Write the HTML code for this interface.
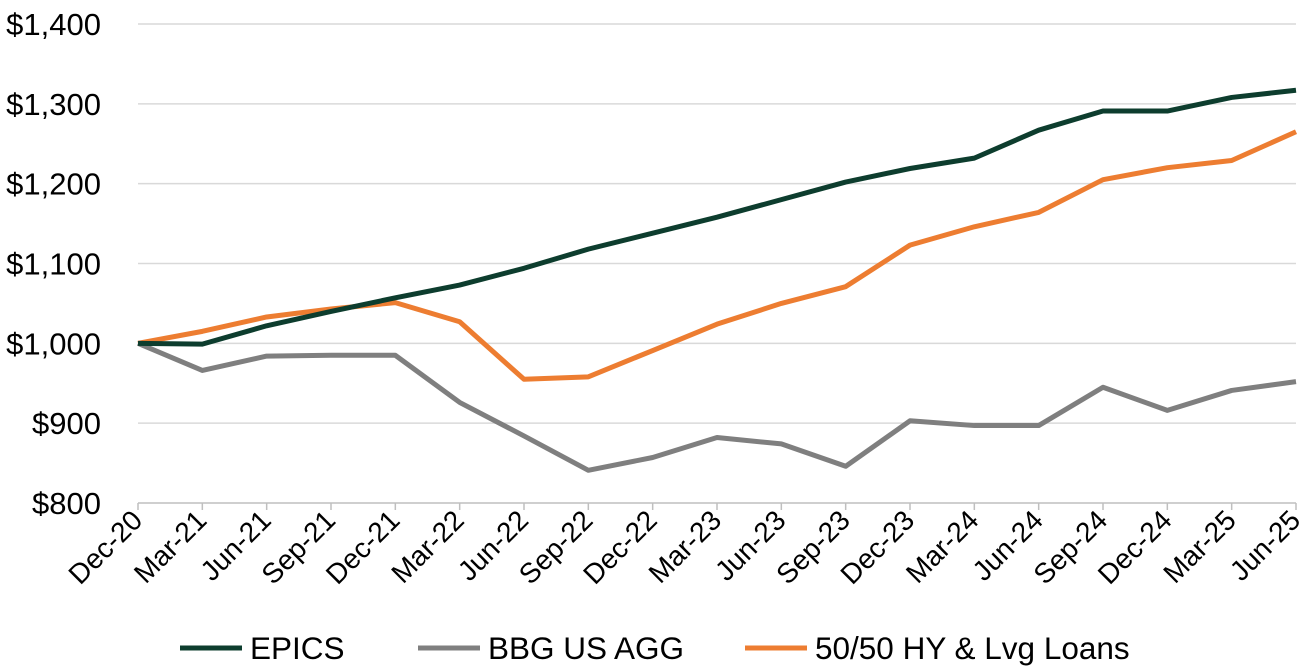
<!DOCTYPE html>
<html><head><meta charset="utf-8"><style>
body{margin:0;background:#fff;font-family:"Liberation Sans",Arial,sans-serif}
svg{display:block}
text{font-family:"Liberation Sans",Arial,sans-serif;fill:#000}
</style></head><body>
<svg id="chart" width="1302" height="671"></svg>
<script>
const categories=["Dec-20","Mar-21","Jun-21","Sep-21","Dec-21","Mar-22","Jun-22","Sep-22","Dec-22","Mar-23","Jun-23","Sep-23","Dec-23","Mar-24","Jun-24","Sep-24","Dec-24","Mar-25","Jun-25"];
const epics=[1000,999,1022,1040,1057,1073,1094,1118,1138,1158,1180,1202,1219,1232,1267,1291,1291,1308,1317];
const agg=[1000,966,984,985,985,926,884,841,857,882,874,846,903,897,897,945,916,941,952];
const hy=[1000,1015,1033,1043,1051,1027,955,958,991,1024,1050,1071,1123,1146,1164,1205,1220,1229,1265];
const yTicks=[800,900,1000,1100,1200,1300,1400];
const yTickLabels=["$800","$900","$1,000","$1,100","$1,200","$1,300","$1,400"];
const seriesNames=["EPICS","BBG US AGG","50/50 HY & Lvg Loans"];
const NS="http://www.w3.org/2000/svg";
const svg=document.getElementById('chart');
const x0=138,x1=1296,yTop=24,yBot=503,vMin=800,vMax=1400;
const xs=i=>x0+(x1-x0)*i/(categories.length-1);
const ys=v=>yBot-(v-vMin)/(vMax-vMin)*(yBot-yTop);
function mk(t,a){const e=document.createElementNS(NS,t);for(const k in a)e.setAttribute(k,a[k]);svg.appendChild(e);return e;}
yTicks.forEach((v,i)=>{
  const g=mk('line',{x1:x0,x2:x1,y1:ys(v),y2:ys(v),stroke:i===0?'#bfbfbf':'#d9d9d9','stroke-width':1.5});
  
  
  const t=mk('text',{x:x0-37,y:ys(v)+11,'text-anchor':'end','font-size':31});
  t.textContent=yTickLabels[i];
  
  
});
categories.forEach((c,i)=>{
  const tk=mk('line',{x1:xs(i),x2:xs(i),y1:yBot,y2:yBot+7,stroke:'#bfbfbf','stroke-width':1.5});
  
  
  const t=mk('text',{x:0,y:0,'text-anchor':'end','font-size':28,transform:`translate(${xs(i)+6},${yBot+19}) rotate(-45)`});
  t.textContent=c;
  
  
});
const series=[[agg,'#7f7f7f'],[hy,'#ed7d31'],[epics,'#0d3d2e']];
const names=['agg-line','hy-loans-line','epics-line'];
series.forEach(([d,col],k)=>{
  const p=mk('polyline',{points:d.map((v,i)=>xs(i)+','+ys(v)).join(' '),fill:'none',stroke:col,'stroke-width':5,'stroke-linejoin':'round'});
  
  
});
const leg=[[180,'#0d3d2e',0],[418,'#7f7f7f',1],[745,'#ed7d31',2]];
leg.forEach(([lx,col,i])=>{
  const l=mk('line',{x1:lx,x2:lx+62,y1:648,y2:648,stroke:col,'stroke-width':5});
  
  
  const t=mk('text',{x:lx+70,y:659,'font-size':31.5});
  t.textContent=seriesNames[i];
  
  
});
</script>
</body></html>
